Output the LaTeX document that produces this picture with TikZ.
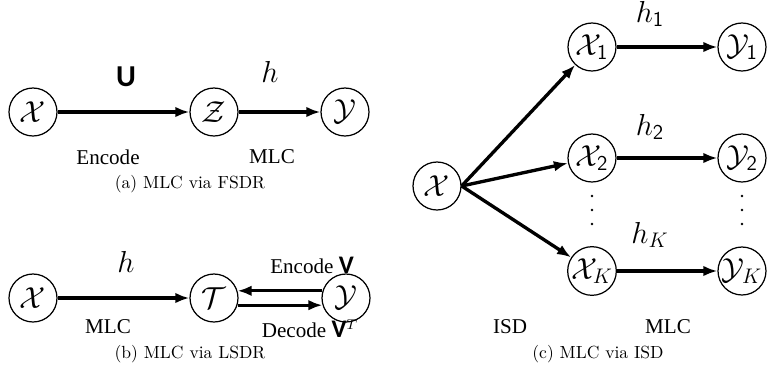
\documentclass[tikz,border=0pt]{standalone}
\usepackage{amsmath}
\usepackage{fontspec}
\usetikzlibrary{arrows.meta}
\newfontfamily\timesfont{Liberation Serif}
\newfontfamily\sansfont{Carlito}

\begin{document}
\begin{tikzpicture}[x=0.02cm,y=-0.02cm,
  state/.style={draw,circle,line width=0.7pt,minimum size=0.96cm,inner sep=0pt,font=\LARGE},
  flow/.style={->,>={Latex[length=8pt,width=6pt]},line width=1.9pt},
  lbl/.style={font=\timesfont\large},
  fn/.style={font=\LARGE}]
\useasboundingbox (0,0) rectangle (774,379);
%(a) FSDR
\node[state] (xa) at (33,112) {$\mathcal{X}$};
\node[state] (za) at (214,112) {$\mathcal{Z}$};
\node[state] (ya) at (345,112) {$\mathcal{Y}$};
\draw[flow] (xa) -- (za);
\draw[flow] (za) -- (ya);
\node[font=\sansfont\bfseries\LARGE] (ua) at (126,77) {U};
\node[fn] (ha) at (270,72) {$h$};
\node[lbl] (enca) at (108,157) {Encode};
\node[lbl] (mlca) at (272,157) {MLC};
\node (capa) at (190,184) {(a) MLC via FSDR};
%(b) LSDR
\node[state] (xb) at (33,298) {$\mathcal{X}$};
\node[state] (tb) at (214,298) {$\mathcal{T}$};
\node[state] (yb) at (346,298) {$\mathcal{Y}$};
\draw[flow] (xb) -- (tb);
\draw[flow] (yb.163) -- (tb.17);
\draw[flow] (tb.-17) -- (yb.-163);
\node[fn] (hb) at (126,262) {$h$};
\node[lbl] (encb) at (312,265) {Encode {\sansfont\bfseries\Large V}};
\node[lbl] (mlcb) at (108,327) {MLC};
\node[lbl] (decb) at (310,329) {Decode {\sansfont\bfseries\Large V}$^{T}$};
\node (capb) at (190,354) {(b) MLC via LSDR};
%(c) ISD
\node[state] (xc) at (437,186) {$\mathcal{X}$};
\node[state] (x1) at (592,47) {$\mathcal{X}_{\mathsf{1}}$};
\node[state] (x2) at (592,158) {$\mathcal{X}_{\mathsf{2}}$};
\node[state] (xk) at (592,271) {$\mathcal{X}_K$};
\node[state] (y1) at (742,47) {$\mathcal{Y}_{\mathsf{1}}$};
\node[state] (y2) at (742,158) {$\mathcal{Y}_{\mathsf{2}}$};
\node[state] (yk) at (742,271) {$\mathcal{Y}_K$};
\draw[flow] (xc.east) -- (x1);
\draw[flow] (xc.east) -- (x2);
\draw[flow] (xc.east) -- (xk);
\draw[flow] (x1) -- (y1);
\draw[flow] (x2) -- (y2);
\draw[flow] (xk) -- (yk);
\node[fn] (h1) at (650,14) {$h_{\mathsf{1}}$};
\node[fn] (h2) at (650,127) {$h_{\mathsf{2}}$};
\node[fn] (hk) at (650,235) {$h_K$};
%dots
\foreach \dy in {196,210,224} {
  \fill (592,\dy) circle [radius=1.4];
  \fill (742,\dy) circle [radius=1.4];
}
\node[lbl] (isdc) at (510,327) {ISD};
\node[lbl] (mlcc) at (668,327) {MLC};
\node (capc) at (598,354) {(c) MLC via ISD};
\end{tikzpicture}
\end{document}
